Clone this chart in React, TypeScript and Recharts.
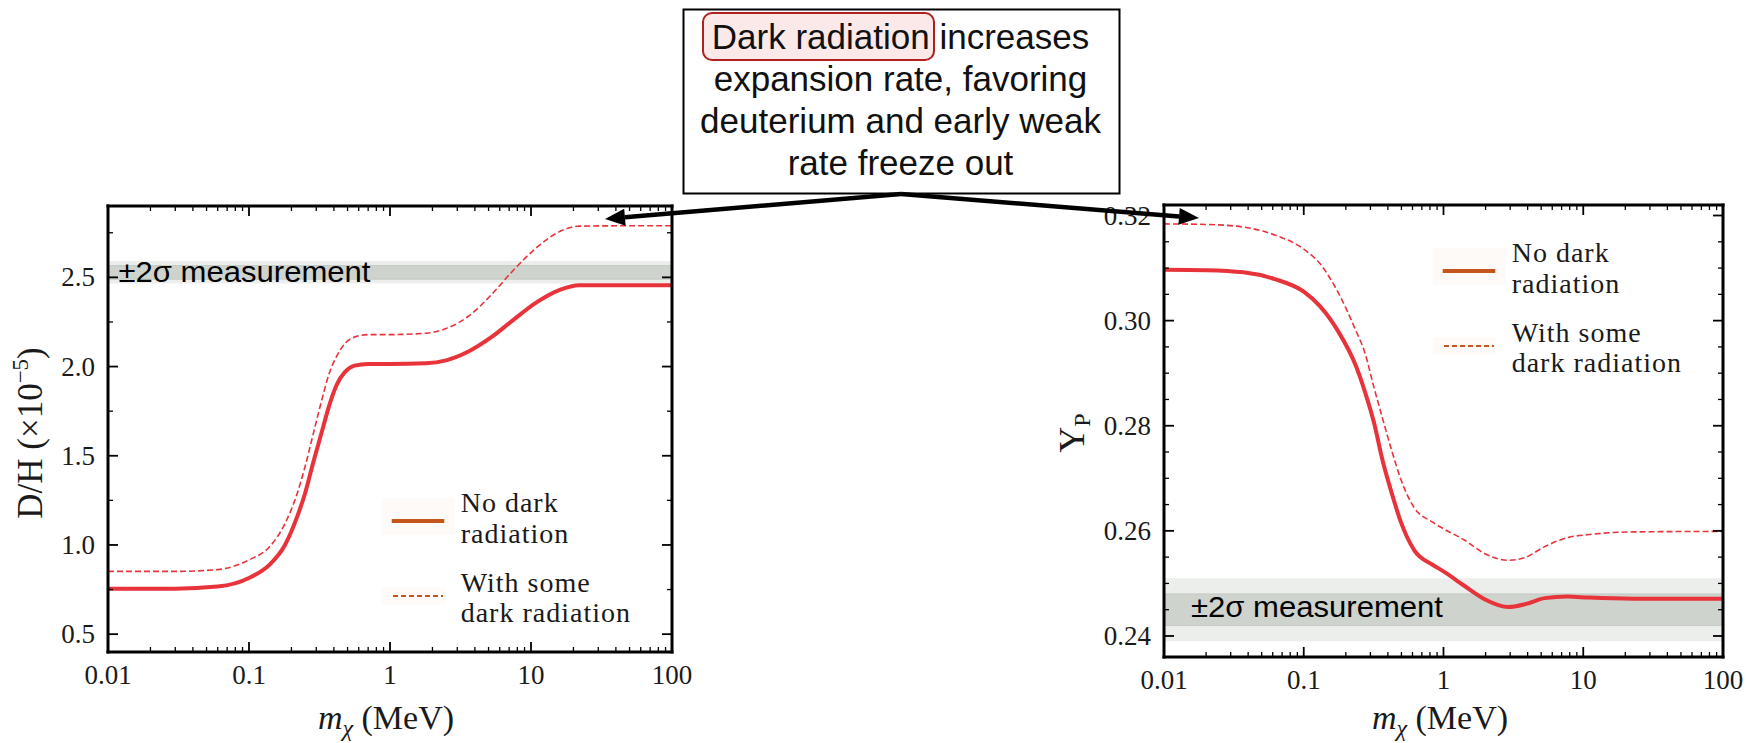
import React from 'react';
import { LineChart, Line, XAxis, YAxis, ReferenceArea, Legend } from 'recharts';

// ---------- D/H panel ----------
const massDH = [0.01, 0.03, 0.06, 0.1, 0.14, 0.18, 0.22, 0.25, 0.285, 0.33, 0.37, 0.42, 0.48, 0.56, 0.7, 1, 1.8, 2.5, 3.6, 5.2, 7.5, 11, 16, 22, 46, 100];
const dhNoDark = [0.755, 0.755, 0.767, 0.815, 0.89, 1.0, 1.16, 1.29, 1.46, 1.64, 1.78, 1.9, 1.97, 2.005, 2.015, 2.015, 2.019, 2.035, 2.084, 2.163, 2.262, 2.361, 2.43, 2.456, 2.456, 2.456];
const dhWithDark = [0.852, 0.852, 0.862, 0.916, 0.99, 1.12, 1.29, 1.44, 1.62, 1.82, 1.96, 2.06, 2.13, 2.165, 2.179, 2.179, 2.187, 2.213, 2.282, 2.4, 2.54, 2.668, 2.757, 2.787, 2.789, 2.789];
const dhMajorTicks = [0.5, 1.0, 1.5, 2.0, 2.5];
const dhTickLabels = ['0.5', '1.0', '1.5', '2.0', '2.5'];
const dhMinorTicks = [0.75, 1.25, 1.75, 2.25, 2.75];
const dhBand2Sigma = [2.466, 2.592];
const dhBand1Sigma = [2.49, 2.566];

// ---------- Y_P panel ----------
const massYp = [0.01, 0.02, 0.037, 0.062, 0.1, 0.13, 0.175, 0.236, 0.273, 0.318, 0.368, 0.427, 0.495, 0.618, 0.83, 1, 1.4, 2, 2.9, 3.9, 5.3, 7.7, 11, 23, 100];
const ypNoDark = [0.3097, 0.3096, 0.3092, 0.3079, 0.3055, 0.3028, 0.2981, 0.2914, 0.2866, 0.2806, 0.2732, 0.2671, 0.2617, 0.2563, 0.2536, 0.2523, 0.2496, 0.2469, 0.2455, 0.2461, 0.2472, 0.2475, 0.2473, 0.2471, 0.2471];
const ypWithDark = [0.3184, 0.3183, 0.3178, 0.3163, 0.3136, 0.3109, 0.3055, 0.2981, 0.294, 0.2873, 0.2812, 0.2752, 0.2698, 0.2644, 0.2617, 0.2604, 0.2583, 0.2556, 0.2544, 0.255, 0.257, 0.2587, 0.2593, 0.2598, 0.2599];
const ypMajorTicks = [0.24, 0.26, 0.28, 0.3, 0.32];
const ypTickLabels = ['0.24', '0.26', '0.28', '0.30', '0.32'];
const ypMinorTicks = [0.245, 0.25, 0.255, 0.265, 0.27, 0.275, 0.285, 0.29, 0.295, 0.305, 0.31, 0.315];
const ypBand2Sigma = [0.239, 0.251];
const ypBand1Sigma = [0.242, 0.248];

// ---------- shared x axis (log mass) ----------
const massMajorTicks = [0.01, 0.1, 1, 10, 100];
const massTickLabels = ['0.01', '0.1', '1', '10', '100'];
const massMinorTicks: number[] = [];
[0.01, 0.1, 1, 10].forEach((d) => {
  for (let k = 2; k <= 9; k++) massMinorTicks.push(+(d * k).toPrecision(3));
});

const seriesNames = ['No dark radiation', 'With some dark radiation'];
const legendLines = [['No dark', 'radiation'], ['With some', 'dark radiation']];
const bandLabel = '±2σ measurement';
const noteLines = ['expansion rate, favoring', 'deuterium and early weak', 'rate freeze out'];
const noteHighlight = 'Dark radiation';
const noteFirstRest = ' increases';

const curveColor = '#e8333b';
const legendColor = '#c4561b';
const serif = '"Liberation Serif", "Times New Roman", serif';
const sans = '"Liberation Sans", Arial, sans-serif';

type Side = 'bottom' | 'top' | 'left' | 'right';

const isMajor = (majors: number[], v: number) =>
  majors.findIndex((m) => Math.abs(m - v) <= 1e-6 * Math.abs(m));

const makeTick = (side: Side, majors: number[], labels: string[] | null) => (props: any) => {
  const { x, y, payload } = props;
  const idx = isMajor(majors, payload.value);
  const len = idx >= 0 ? 10 : 5;
  const sw = idx >= 0 ? 1.8 : 1.3;
  let l = { x1: x, y1: y, x2: x, y2: y };
  if (side === 'bottom') l = { x1: x, y1: y, x2: x, y2: y - len };
  if (side === 'top') l = { x1: x, y1: y, x2: x, y2: y + len };
  if (side === 'left') l = { x1: x, y1: y, x2: x + len, y2: y };
  if (side === 'right') l = { x1: x, y1: y, x2: x - len, y2: y };
  let label = null;
  if (labels && idx >= 0) {
    if (side === 'bottom')
      label = (
        <text x={x} y={y + 32} textAnchor="middle" fontFamily={serif} fontSize={27} fill="#1a1a1a">
          {labels[idx]}
        </text>
      );
    if (side === 'left')
      label = (
        <text x={x - 13} y={y + 9} textAnchor="end" fontFamily={serif} fontSize={27} fill="#1a1a1a">
          {labels[idx]}
        </text>
      );
  }
  return (
    <g>
      <line {...l} stroke="#000" strokeWidth={sw} />
      {label}
    </g>
  );
};

const LegendBox = () => (
  <svg width={320} height={150} style={{ overflow: 'visible', display: 'block' }}>
    <rect x={1.7} y={8} width={73} height={37} fill="#fefaf7" />
    <line x1={11.7} x2={64.3} y1={31} y2={31} stroke={legendColor} strokeWidth={4} />
    <text x={80.7} y={21.7} fontFamily={serif} fontSize={28} letterSpacing={1} fill="#1a1a1a">{legendLines[0][0]}</text>
    <text x={80.7} y={53} fontFamily={serif} fontSize={28} letterSpacing={1} fill="#1a1a1a">{legendLines[0][1]}</text>
    <rect x={1.7} y={97} width={63} height={18} fill="#fefaf7" />
    <line x1={13} x2={63} y1={106} y2={106} stroke={legendColor} strokeWidth={2} strokeDasharray="5 3" />
    <text x={80.7} y={101.7} fontFamily={serif} fontSize={28} letterSpacing={1} fill="#1a1a1a">{legendLines[1][0]}</text>
    <text x={80.7} y={131.7} fontFamily={serif} fontSize={28} letterSpacing={1} fill="#1a1a1a">{legendLines[1][1]}</text>
  </svg>
);

type PanelProps = {
  data: { m: number; noDR: number; withDR: number }[];
  width: number;
  margin: { top: number; right: number; bottom: number; left: number };
  yDomain: [number, number];
  yMajors: number[];
  yLabels: string[];
  yMinors: number[];
  band2: number[];
  band1: number[];
  bandTextDx: number;
  bandTextDy: number;
  legendLeft: number;
  legendTop: number;
};

const frame = { stroke: '#000', strokeWidth: 3, strokeLinecap: 'square' as const };

const Panel = (p: PanelProps) => {
  const xTicks = [...massMajorTicks, ...massMinorTicks];
  const yTicks = [...p.yMajors, ...p.yMinors];
  return (
    <LineChart width={p.width} height={743} data={p.data} margin={p.margin}>
      <XAxis xAxisId="b" dataKey="m" type="number" scale="log" domain={[0.01, 100]} allowDataOverflow
        ticks={xTicks} interval={0} height={60} tickSize={0} tickMargin={0} tickLine={false}
        axisLine={frame} tick={makeTick('bottom', massMajorTicks, massTickLabels)} />
      <XAxis xAxisId="t" orientation="top" dataKey="m" type="number" scale="log" domain={[0.01, 100]} allowDataOverflow
        ticks={xTicks} interval={0} height={10} tickSize={0} tickMargin={0} tickLine={false}
        axisLine={frame} tick={makeTick('top', massMajorTicks, null)} />
      <YAxis yAxisId="l" type="number" domain={p.yDomain} allowDataOverflow ticks={yTicks} interval={0}
        width={60} tickSize={0} tickMargin={0} tickLine={false} axisLine={frame}
        tick={makeTick('left', p.yMajors, p.yLabels)} />
      <YAxis yAxisId="r" orientation="right" type="number" domain={p.yDomain} allowDataOverflow ticks={yTicks} interval={0}
        width={10} tickSize={0} tickMargin={0} tickLine={false} axisLine={frame}
        tick={makeTick('right', p.yMajors, null)} />
      <ReferenceArea xAxisId="b" yAxisId="l" y1={p.band2[0]} y2={p.band2[1]} fill="#eceeec" fillOpacity={1} stroke="none" />
      <ReferenceArea xAxisId="b" yAxisId="l" y1={p.band1[0]} y2={p.band1[1]} fill="#ced3ce" fillOpacity={1}
        stroke="#c3c9c3" strokeWidth={1}
        label={(lp: any) => {
          const vb = lp.viewBox || { x: 0, y: 0, width: 0, height: 0 };
          return (
            <text x={vb.x + p.bandTextDx} y={vb.y + vb.height + p.bandTextDy} fontFamily={sans} fontSize={30}
              textLength={252} lengthAdjust="spacingAndGlyphs" fill="#000">
              {bandLabel}
            </text>
          );
        }} />
      <Line xAxisId="b" yAxisId="l" type="monotone" dataKey="withDR" name={seriesNames[1]} stroke={curveColor}
        strokeWidth={1.6} strokeDasharray="6 3" dot={false} isAnimationActive={false} />
      <Line xAxisId="b" yAxisId="l" type="monotone" dataKey="noDR" name={seriesNames[0]} stroke={curveColor}
        strokeWidth={4} dot={false} isAnimationActive={false} />
      <Legend layout="vertical" align="center" verticalAlign="middle" width={320} height={150}
        wrapperStyle={{ left: p.legendLeft, top: p.legendTop, width: 320, height: 150 }}
        content={() => <LegendBox />} />
    </LineChart>
  );
};

const dhData = massDH.map((m, i) => ({ m, noDR: dhNoDark[i], withDR: dhWithDark[i] }));
const ypData = massYp.map((m, i) => ({ m, noDR: ypNoDark[i], withDR: ypWithDark[i] }));

const Arrow = ({ x0, y0, x1, y1 }: { x0: number; y0: number; x1: number; y1: number }) => {
  const a = Math.atan2(y1 - y0, x1 - x0);
  const hl = 20;
  const hw = 8.5;
  const bx = x1 - hl * Math.cos(a);
  const by = y1 - hl * Math.sin(a);
  const px = -Math.sin(a) * hw;
  const py = Math.cos(a) * hw;
  return (
    <g>
      <line x1={x0} y1={y0} x2={bx} y2={by} stroke="#000" strokeWidth={4.5} />
      <polygon points={`${x1},${y1} ${bx + px},${by + py} ${bx - px},${by - py}`} fill="#000" />
    </g>
  );
};

export default function App() {
  return (
    <div style={{ position: 'absolute', left: 0, top: 0, width: 1754, height: 743, background: '#fff', overflow: 'hidden' }}>
      <div style={{ position: 'absolute', left: 0, top: 0 }}>
        <Panel data={dhData} width={700} margin={{ top: 196, right: 18, bottom: 31, left: 48 }}
          yDomain={[0.4, 2.9]} yMajors={dhMajorTicks} yLabels={dhTickLabels} yMinors={dhMinorTicks}
          band2={dhBand2Sigma} band1={dhBand1Sigma} bandTextDx={10.5} bandTextDy={2.5}
          legendLeft={380} legendTop={490} />
      </div>
      <div style={{ position: 'absolute', left: 1050, top: 0 }}>
        <Panel data={ypData} width={704} margin={{ top: 195, right: 21, bottom: 26, left: 54 }}
          yDomain={[0.236, 0.322]} yMajors={ypMajorTicks} yLabels={ypTickLabels} yMinors={ypMinorTicks}
          band2={ypBand2Sigma} band1={ypBand1Sigma} bandTextDx={27} bandTextDy={-8.5}
          legendLeft={381} legendTop={240} />
      </div>
      <svg width={1754} height={743} style={{ position: 'absolute', left: 0, top: 0, pointerEvents: 'none' }}>
        {/* axis titles */}
        <text transform="translate(42,433) rotate(-90)" textAnchor="middle" fontFamily={serif} fontSize={35} fill="#1a1a1a">
          D/H (×10<tspan fontSize={23} dy={-14}>−5</tspan><tspan dy={14}>)</tspan>
        </text>
        <text transform="translate(1084,433) rotate(-90)" textAnchor="middle" fontFamily={serif} fontSize={36} fill="#1a1a1a">
          Y<tspan fontSize={24} dy={6}>P</tspan>
        </text>
        <text x={386} y={729} textAnchor="middle" fontFamily={serif} fontSize={34} fill="#1a1a1a">
          <tspan fontStyle="italic">m</tspan><tspan fontSize={24} dy={7} fontStyle="italic">χ</tspan><tspan dy={-7}> (MeV)</tspan>
        </text>
        <text x={1440} y={729} textAnchor="middle" fontFamily={serif} fontSize={34} fill="#1a1a1a">
          <tspan fontStyle="italic">m</tspan><tspan fontSize={24} dy={7} fontStyle="italic">χ</tspan><tspan dy={-7}> (MeV)</tspan>
        </text>

        {/* note box */}
        <rect x={683.5} y={9.5} width={436} height={184} fill="#fff" stroke="#000" strokeWidth={2} />
        <rect x={703} y={13} width={231} height={47} rx={9} ry={9} fill="#fbe8e8" stroke="#b01e1e" strokeWidth={2} />
        <text x={900.5} y={49} textAnchor="middle" fontFamily={sans} fontSize={35} fill="#111">
          {noteHighlight}{noteFirstRest}
        </text>
        {noteLines.map((t, i) => (
          <text key={t} x={900.5} y={91 + i * 42} textAnchor="middle" fontFamily={sans} fontSize={35} fill="#111">
            {t}
          </text>
        ))}
        <Arrow x0={901} y0={194} x1={605} y1={219} />
        <Arrow x0={901} y0={194} x1={1199} y1={218} />
      </svg>
    </div>
  );
}
